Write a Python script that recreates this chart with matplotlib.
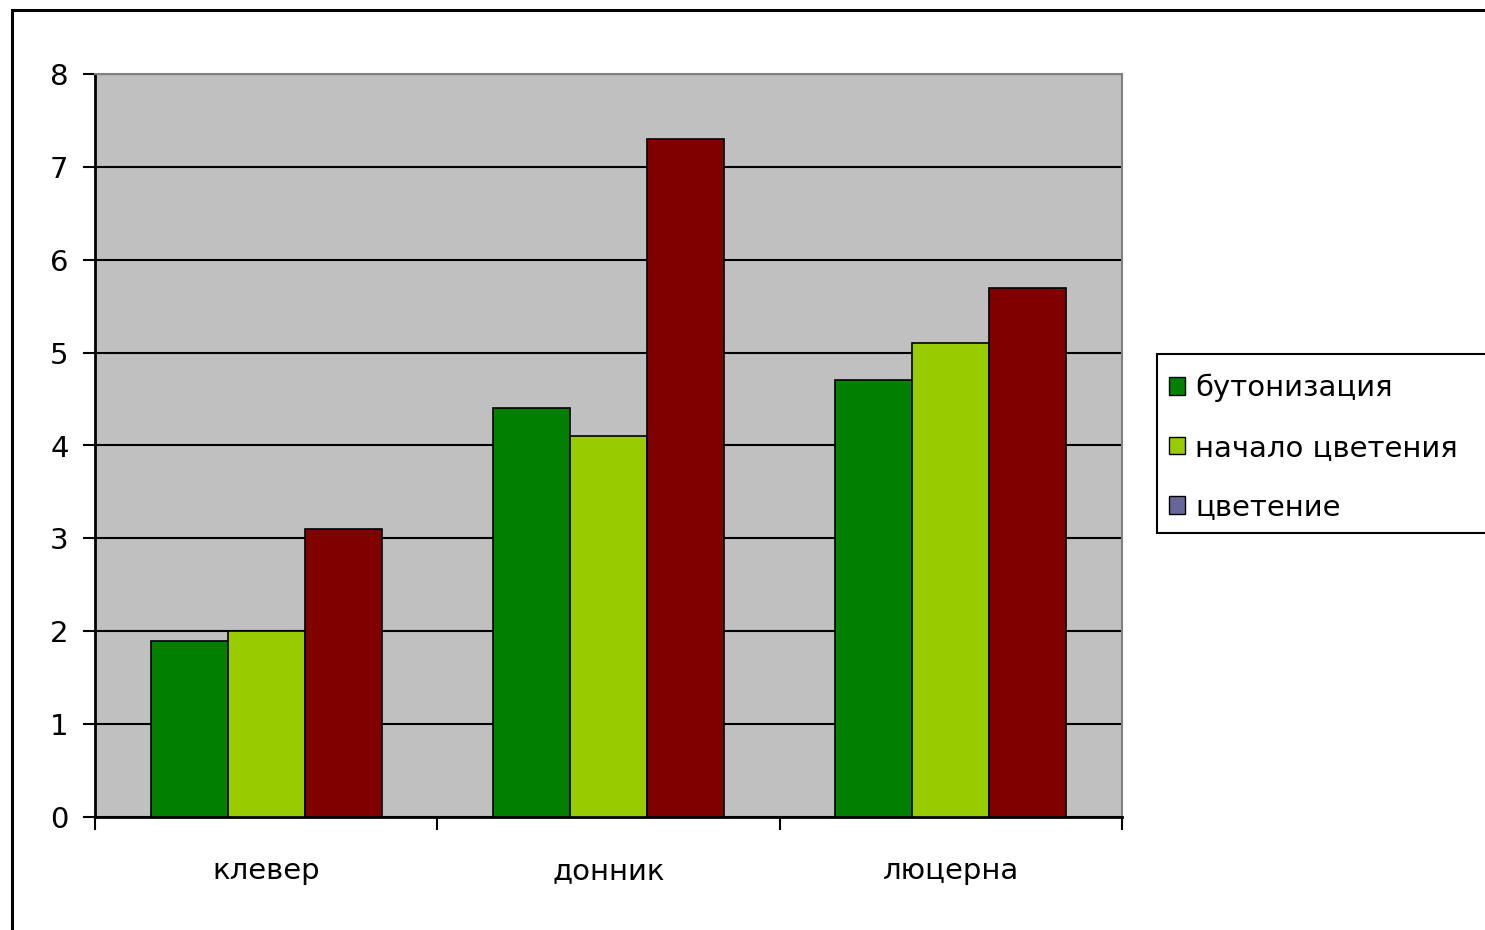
import numpy as np
import matplotlib.pyplot as plt
from matplotlib.patches import Rectangle, Patch

plt.rcParams['font.family'] = ['DejaVu Sans']

plants = ['клевер', 'донник', 'люцерна']
phases = ['бутонизация', 'начало цветения', 'цветение']
budding = [1.9, 4.4, 4.7]
early_bloom = [2.0, 4.1, 5.1]
bloom = [3.1, 7.3, 5.7]

bar_colors = ['#007f00', '#99cc00', '#800000']
legend_colors = ['#007f00', '#99cc00', '#666699']

W, H = 1485, 930
fig = plt.figure(figsize=(W / 100, H / 100), dpi=100)
ax = fig.add_axes([95 / W, 1 - 817 / H, 1027 / W, 743 / H])
ax.set_facecolor('#c0c0c0')

# outer chart frame (runs off the right and bottom edges)
fig.patches.append(Rectangle((12 / W, -0.1), 1.2, 1 - 10 / H + 0.1,
                             transform=fig.transFigure, fill=False,
                             edgecolor='black', linewidth=2.2))

x = np.arange(len(plants))
w = 0.225
for i, vals in enumerate([budding, early_bloom, bloom]):
    ax.bar(x + (i - 1) * w, vals, width=w, color=bar_colors[i],
           edgecolor='black', linewidth=1.2, zorder=3)

ax.set_xlim(-0.5, 2.5)
ax.set_ylim(0, 8)
ax.set_yticks(range(0, 9))
ax.yaxis.grid(True, color='black', linewidth=1.5, zorder=1)
ax.set_axisbelow(True)

ax.set_xticks([-0.5, 0.5, 1.5, 2.5])
ax.set_xticklabels([])
ax.set_xticks(x, minor=True)
ax.set_xticklabels(plants, minor=True, fontsize=21)
ax.tick_params(axis='x', which='minor', length=0, pad=29)
ax.tick_params(axis='x', which='major', length=9, width=1.5, direction='out')
ax.tick_params(axis='y', length=9, width=1.5, labelsize=21, pad=10)

for side in ['top', 'right']:
    ax.spines[side].set_color('#808080')
    ax.spines[side].set_linewidth(1.5)
for side in ['left', 'bottom']:
    ax.spines[side].set_linewidth(2)

# legend box, also cut by the right edge
fig.patches.append(Rectangle((1157 / W, 1 - 533 / H), 0.5, 179 / H,
                             transform=fig.transFigure, facecolor='white',
                             edgecolor='black', linewidth=1.5))
handles = [Patch(facecolor=c, edgecolor='black', linewidth=1) for c in legend_colors]
leg = fig.legend(handles, phases, loc='upper left',
                 bbox_to_anchor=(1169 / W, 1 - 374 / H),
                 fontsize=21, frameon=False,
                 handlelength=0.55, handleheight=0.55, handletextpad=0.35,
                 labelspacing=1.08, borderpad=0, borderaxespad=0)

fig.savefig('out.png', dpi=100)
